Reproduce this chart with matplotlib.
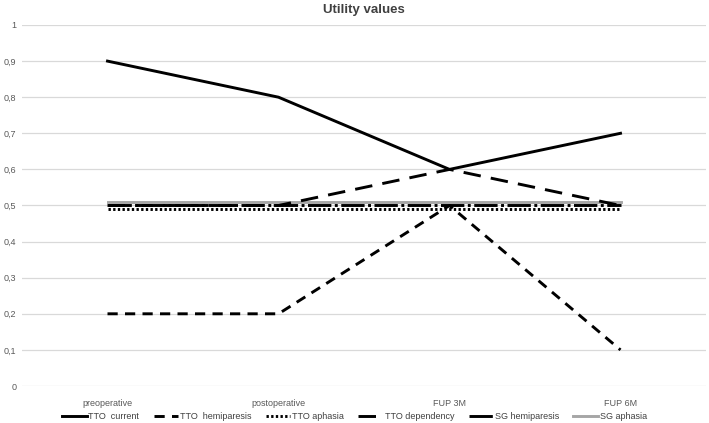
import numpy as np
import matplotlib.pyplot as plt

plt.rcParams['font.family'] = ['Liberation Sans', 'DejaVu Sans']

categories = ["preoperative", "postoperative", "FUP 3M", "FUP 6M"]

tto_current = [0.9, 0.8, 0.6, 0.7]
tto_hemiparesis = [0.2, 0.2, 0.5, 0.1]
tto_aphasia = [0.49, 0.49, 0.49, 0.49]
tto_dependency = [0.5, 0.5, 0.6, 0.5]
sg_hemiparesis = [0.5, 0.5, 0.5, 0.5]
sg_aphasia = [0.51, 0.51, 0.51, 0.51]

y_ticks = [0, 0.1, 0.2, 0.3, 0.4, 0.5, 0.6, 0.7, 0.8, 0.9, 1]
y_labels = ["0", "0,1", "0,2", "0,3", "0,4", "0,5", "0,6", "0,7", "0,8", "0,9", "1"]

fig = plt.figure(figsize=(7.09, 4.23), dpi=100)
ax = fig.add_axes([22 / 709, 37 / 423, 684 / 709, 361 / 423])

x = np.arange(len(categories))
lw = 2.1

ax.plot(x, sg_aphasia, color="#a6a6a6", lw=lw, label="SG aphasia", zorder=2)
ax.plot(x, tto_aphasia, color="black", lw=lw, linestyle=(0, (0.8, 0.8)), label="TTO aphasia", zorder=3)
ax.plot(x, sg_hemiparesis, color="black", lw=lw, linestyle=(0, (8, 1.2, 1, 1.2)), label="SG hemiparesis", zorder=3)
ax.plot(x, tto_dependency, color="black", lw=lw, linestyle=(0, (6, 3.5)), label="TTO dependency", zorder=4)
ax.plot(x, tto_hemiparesis, color="black", lw=lw, linestyle=(0, (3.5, 2.5)), label="TTO  hemiparesis", zorder=4)
ax.plot(x, tto_current, color="black", lw=lw, label="TTO  current", zorder=5)

ax.set_xlim(-0.5, len(categories) - 0.5)
ax.set_ylim(0, 1)
ax.set_yticks(y_ticks)
ax.set_yticklabels(y_labels)
ax.set_xticks(x)
ax.set_xticklabels(categories)
ax.tick_params(axis="both", length=0, labelsize=6.5, colors="#595959")
ax.tick_params(axis="y", pad=4)
ax.tick_params(axis="x", pad=9)
ax.grid(axis="y", color="#d9d9d9", lw=0.9)
ax.set_axisbelow(True)
for s in ax.spines.values():
    s.set_visible(False)

ax.set_title("Utility values", fontsize=9.5, fontweight="bold", color="#404040", pad=9)

handles, labels = ax.get_legend_handles_labels()
order = ["TTO  current", "TTO  hemiparesis", "TTO aphasia", "TTO dependency", "SG hemiparesis", "SG aphasia"]
hmap = dict(zip(labels, handles))
fig.legend([hmap[o] for o in order], order, loc="lower center", bbox_to_anchor=(0.5, -0.015),
           ncol=6, frameon=False, fontsize=6.5, handlelength=2.7, columnspacing=1.6,
           handletextpad=0.2, labelcolor="#404040")

fig.savefig("out.png", dpi=100)
